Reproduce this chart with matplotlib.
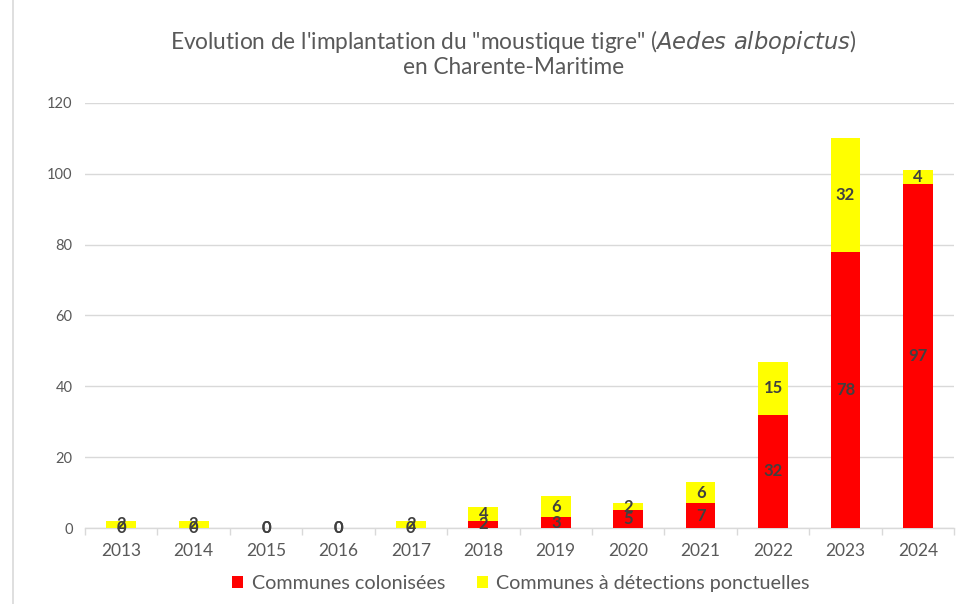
import matplotlib.pyplot as plt
from matplotlib.lines import Line2D
import numpy as np

plt.rcParams['font.family'] = ['Lato', 'DejaVu Sans']

annees = ['2013', '2014', '2015', '2016', '2017', '2018', '2019', '2020', '2021', '2022', '2023', '2024']
colonisees = [0, 0, 0, 0, 0, 2, 3, 5, 7, 32, 78, 97]
ponctuelles = [2, 2, 0, 0, 2, 4, 6, 2, 6, 15, 32, 4]

gris = '#595959'
gris_fonce = '#404040'
grille = '#d9d9d9'


def main():
    fig = plt.figure(figsize=(9.63, 6.04), dpi=100)
    ax = fig.add_axes([0.0883, 0.1258, 0.9024, 0.7037])

    x = np.arange(len(annees))
    b1 = ax.bar(x, colonisees, width=0.41, color='#ff0000', label='Communes colonisées', zorder=3)
    b2 = ax.bar(x, ponctuelles, width=0.41, bottom=colonisees, color='#ffff00',
                label='Communes à détections ponctuelles', zorder=3)

    # étiquettes au centre de chaque segment (les 0 se chevauchent comme sur l'original)
    for b in (b1, b2):
        ax.bar_label(b, label_type='center', fontsize=12, fontweight='bold', color=gris_fonce)

    ax.set_xlim(-0.5, len(annees) - 0.5)
    ax.set_ylim(0, 120)
    ax.set_yticks(range(0, 121, 20))
    ax.set_xticks(x)
    ax.set_xticklabels(annees)
    ax.set_xticks(np.arange(-0.5, len(annees), 1), minor=True)

    ax.tick_params(axis='y', length=0, pad=9, labelsize=10.5, labelcolor=gris)
    ax.tick_params(axis='x', which='major', length=0, pad=11, labelsize=12.5, labelcolor=gris)
    ax.tick_params(axis='x', which='minor', length=5, color=grille, width=1)

    ax.grid(axis='y', color=grille, linewidth=1, zorder=0)
    for s in ['top', 'right', 'left']:
        ax.spines[s].set_visible(False)
    ax.spines['bottom'].set_color(grille)
    ax.spines['bottom'].set_linewidth(1)

    fig.text(0.533, 0.930, 'Evolution de l\'implantation du "moustique tigre" ($\\it{Aedes\\ albopictus}$)',
             ha='center', va='center', fontsize=16.3, color=gris)
    fig.text(0.533, 0.889, 'en Charente-Maritime', ha='center', va='center', fontsize=16.3, color=gris)

    fig.legend(loc='center', bbox_to_anchor=(0.541, 0.034), ncol=2, frameon=False,
               fontsize=14.2, labelcolor=gris, handlelength=0.55, handleheight=0.55,
               handletextpad=0.45, columnspacing=1.6)

    fig.add_artist(Line2D([0.0135, 0.0135], [0, 1], transform=fig.transFigure, color=grille, linewidth=1.2))

    plt.savefig('out.png', dpi=100)


if __name__ == "__main__":
    main()
